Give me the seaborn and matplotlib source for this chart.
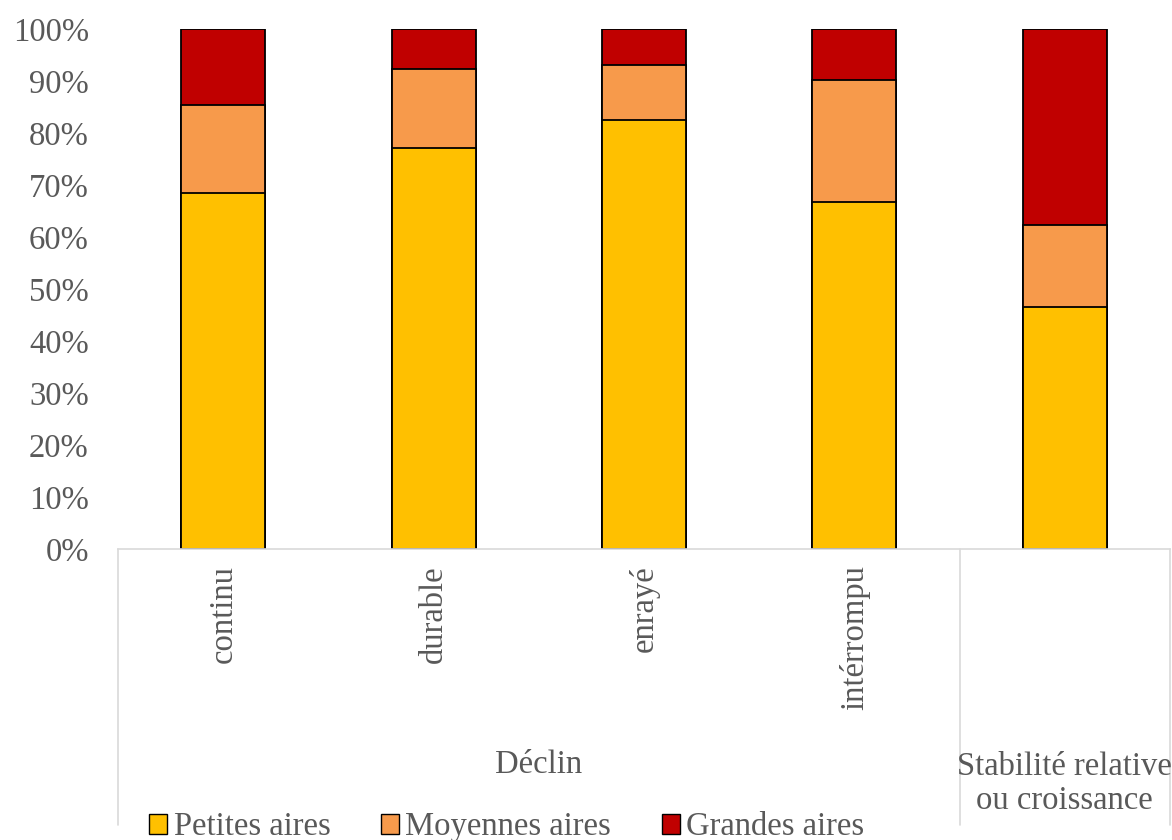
import numpy as np
import pandas as pd
import matplotlib
matplotlib.use("Agg")
import matplotlib.pyplot as plt
import seaborn as sns
from matplotlib.patches import Patch

# data (shares in %)
categories = ["continu", "durable", "enrayé", "intérrompu", "Stabilité"]
sub_labels = ["continu", "durable", "enrayé", "intérrompu"]
petites = [68.5, 77.1, 82.5, 66.7, 46.5]
moyennes = [16.9, 15.2, 10.6, 23.5, 15.8]
grandes = [14.6, 7.7, 6.9, 9.8, 37.7]
series_names = ["Petites aires", "Moyennes aires", "Grandes aires"]
colors = ["#FFC000", "#F79A4B", "#C00000"]
yticks = [0, 10, 20, 30, 40, 50, 60, 70, 80, 90, 100]

sns.set_style("white")
plt.rcParams["font.family"] = ["Liberation Serif", "DejaVu Serif"]
grey = "#595959"
fs = 23.5

df = pd.DataFrame({"cat": categories, "p": petites, "m": moyennes, "g": grandes})
df["pm"] = df["p"] + df["m"]
df["pmg"] = df["pm"] + df["g"]

fig = plt.figure(figsize=(11.72, 8.4), dpi=100)
ax = fig.add_axes([118 / 1172, 1 - 549 / 840, (1170 - 118) / 1172, 520 / 840])

# stacked bars drawn as overlaid cumulative bars
for col, c in zip(["pmg", "pm", "p"], colors[::-1]):
    sns.barplot(data=df, x="cat", y=col, color=c, width=0.4, edgecolor="black",
                linewidth=1.3, saturation=1, ax=ax, order=categories)

ax.set_ylim(0, 100)
ax.set_xlim(-0.5, 4.5)
ax.set_yticks(yticks)
ax.set_yticklabels([f"{v}%" for v in yticks], fontsize=fs, color=grey)
ax.tick_params(axis="y", length=0, pad=21)
ax.set_xticks([])
ax.set_xlabel("")
ax.set_ylabel("")
for s in ["top", "right", "left"]:
    ax.spines[s].set_visible(False)
ax.spines["bottom"].set_color("#d9d9d9")
ax.spines["bottom"].set_linewidth(1.2)

# multi-level category axis
trans = ax.get_xaxis_transform()
for xv in [-0.5, 3.5, 4.5]:
    ax.plot([xv, xv], [0, -0.531], transform=trans, color="#d9d9d9",
            lw=1.2, clip_on=False)
for i, lab in enumerate(sub_labels):
    ax.text(i, -0.031, lab, transform=trans, rotation=90, ha="center",
            va="top", fontsize=fs, color=grey)
ax.text(1.5, -0.415, "Déclin", transform=trans, ha="center", va="center",
        fontsize=fs, color=grey)
ax.text(4, -0.452, "Stabilité relative\nou croissance", transform=trans,
        ha="center", va="center", fontsize=fs, color=grey, linespacing=1.15)

handles = [Patch(facecolor=c, edgecolor="black", linewidth=1) for c in colors]
fig.legend(handles, series_names, loc="center left",
           bbox_to_anchor=(136 / 1172, 13 / 840), ncol=3, frameon=False,
           fontsize=fs, labelcolor=grey, handlelength=0.55, handleheight=0.55,
           handletextpad=0.2, columnspacing=1.55, borderaxespad=0)

fig.savefig("out.png", dpi=100)
